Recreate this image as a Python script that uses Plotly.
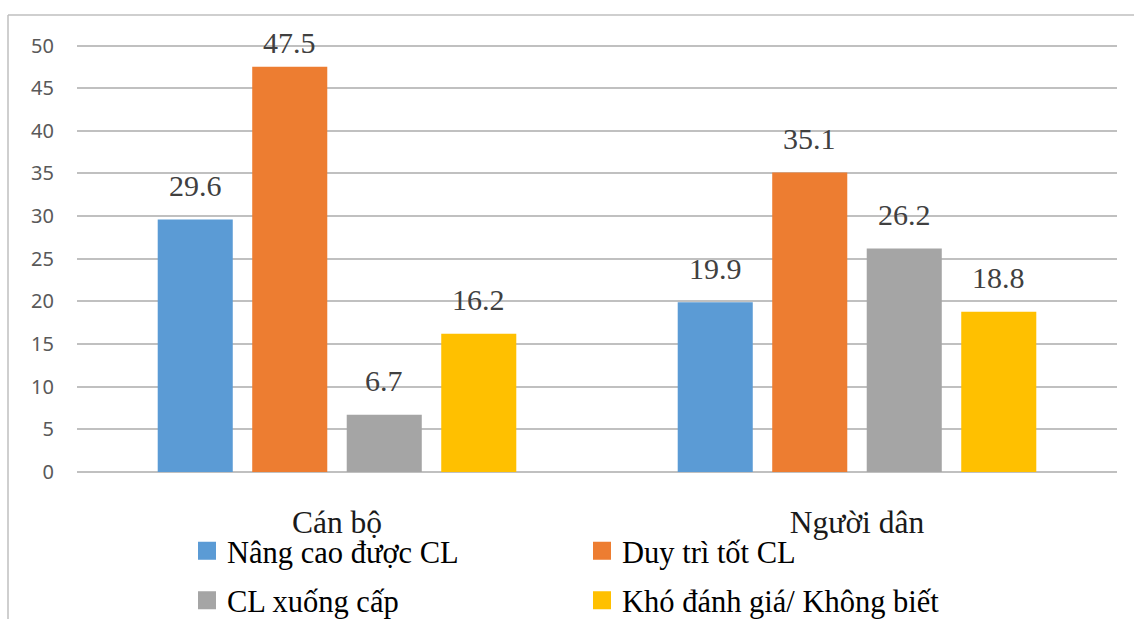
import plotly.graph_objects as go

# Survey groups and answer categories
groups = ["Cán bộ", "Người dân"]
series_names = ["Nâng cao được CL", "Duy trì tốt CL", "CL xuống cấp", "Khó đánh giá/ Không biết"]
series_colors = ["#5B9BD5", "#ED7D31", "#A5A5A5", "#FFC000"]

# Percentages per answer, one value per group
nang_cao = [29.6, 19.9]
duy_tri = [47.5, 35.1]
xuong_cap = [6.7, 26.2]
kho_danh_gia = [16.2, 18.8]
series_values = [nang_cao, duy_tri, xuong_cap, kho_danh_gia]

y_ticks = [0, 5, 10, 15, 20, 25, 30, 35, 40, 45, 50]

W, H = 1134, 619
M_L, M_R, M_T, M_B = 77, 17, 37, 147
Y_MAX = 51
BARGAP = 0.273
BARGROUPGAP = 0.206

plot_w = W - M_L - M_R
plot_h = H - M_T - M_B
px_per_unit = plot_h / Y_MAX

serif = "Liberation Serif, Times New Roman, serif"
grid_col = "#C0C0C0"

fig = go.Figure()

for name, vals, col in zip(series_names, series_values, series_colors):
    fig.add_trace(go.Bar(
        x=groups, y=vals, name=name, marker=dict(color=col, line=dict(width=0)),
        showlegend=False, hoverinfo="skip",
    ))

# Legend entries drawn with larger square swatches, two per row
for i, (name, col) in enumerate(zip(series_names, series_colors)):
    fig.add_trace(go.Scatter(
        x=[None], y=[None], mode="markers", name=name,
        marker=dict(symbol="square", size=16, color=col, line=dict(color=col, width=2)),
        legend="legend" if i < 2 else "legend2", hoverinfo="skip",
    ))

# Value labels above each bar
cat_w = plot_w / len(groups)
slot = cat_w * (1 - BARGAP) / len(series_names)
label_off = 34 / px_per_unit
label_cap = 50.3
for si, vals in enumerate(series_values):
    shift = (si - (len(series_names) - 1) / 2) * slot
    for g, v in zip(groups, vals):
        fig.add_annotation(
            x=g, y=min(v + label_off, label_cap), xref="x", yref="y",
            text=f"{v}", showarrow=False, xshift=shift, yanchor="middle",
            font=dict(family=serif, size=30, color="#404040"),
        )

# Outer chart frame (top and left edges)
fr_left = (8 - M_L) / plot_w
fr_top = (H - M_B - 15) / plot_h
fig.add_shape(type="line", xref="paper", yref="paper", x0=fr_left, x1=(W - M_L) / plot_w + 0.01,
              y0=fr_top, y1=fr_top, line=dict(color="#BFBFBF", width=1.5))
fig.add_shape(type="line", xref="paper", yref="paper", x0=fr_left, x1=fr_left,
              y0=fr_top, y1=-(M_B + 5) / plot_h, line=dict(color="#BFBFBF", width=1.5))

leg_x = (187 - M_L) / plot_w
common_legend = dict(
    orientation="h", xanchor="left", yanchor="middle", x=leg_x,
    font=dict(family=serif, size=30.5, color="#000000"),
    entrywidth=350, entrywidthmode="pixels", bgcolor="rgba(0,0,0,0)",
    itemclick=False, itemdoubleclick=False,
)

fig.update_layout(
    width=W, height=H,
    margin=dict(l=M_L, r=M_R, t=M_T, b=M_B, autoexpand=False),
    paper_bgcolor="white", plot_bgcolor="white",
    barmode="group", bargap=BARGAP, bargroupgap=BARGROUPGAP,
    xaxis=dict(
        showgrid=False, showline=False, ticks="", zeroline=False,
        tickfont=dict(family=serif, size=31.5, color="#1a1a1a"),
        ticklabelstandoff=28,
    ),
    yaxis=dict(
        range=[0, Y_MAX], tickvals=y_ticks, showgrid=True, gridcolor=grid_col, gridwidth=1.5,
        zeroline=True, zerolinecolor=grid_col, zerolinewidth=1.5,
        showline=False, ticks="",
        tickfont=dict(family="Noto Sans, Open Sans, sans-serif", size=20, color="#595959"),
        ticklabelstandoff=22,
    ),
    legend=dict(common_legend, y=-(551 - (H - M_B)) / plot_h),
    legend2=dict(common_legend, y=-(600.5 - (H - M_B)) / plot_h),
    showlegend=True,
)

fig.write_html("out.html")
